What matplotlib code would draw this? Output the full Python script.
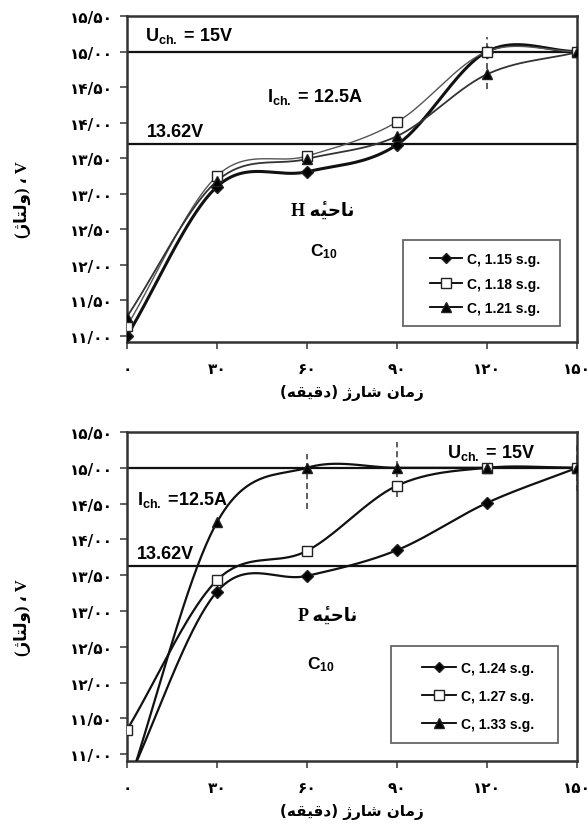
import numpy as np
import unicodedata
import matplotlib
matplotlib.use("Agg")
import matplotlib.pyplot as plt
from matplotlib.patches import Rectangle

plt.rcParams['mathtext.fontset'] = 'custom'
plt.rcParams['mathtext.rm'] = 'Liberation Sans'
plt.rcParams['mathtext.bf'] = 'Liberation Sans:bold'
plt.rcParams['mathtext.it'] = 'Liberation Sans:italic'

# ---------------- data ----------------
time_min = [0, 30, 60, 90, 120, 150]

top_labels = ["C, 1.15 s.g.", "C, 1.18 s.g.", "C, 1.21 s.g."]
top_115 = [11.00, 13.10, 13.31, 13.69, 15.00, 15.00]
top_118 = [11.14, 13.25, 13.53, 14.01, 15.00, 15.00]
top_121 = [11.27, 13.18, 13.49, 13.81, 14.68, 14.99]

bot_labels = ["C, 1.24 s.g.", "C, 1.27 s.g.", "C, 1.33 s.g."]
bot_124 = [10.60, 13.27, 13.49, 13.85, 14.51, 15.00]
bot_127 = [11.34, 13.43, 13.84, 14.75, 15.00, 15.00]
bot_133 = [10.50, 14.24, 15.00, 15.00, 15.00, 15.00]

top_hlines = [15.00, 13.70]
bot_hlines = [15.00, 13.63]
top_dashed = {120: (14.47, 15.20)}
bot_dashed = {60: (14.42, 15.19), 90: (14.59, 15.36), 150: (14.68, 15.36)}

y_ticks = [11.0, 11.5, 12.0, 12.5, 13.0, 13.5, 14.0, 14.5, 15.0, 15.5]
y_ticklabels = ["۱۱/۰۰", "۱۱/۵۰", "۱۲/۰۰", "۱۲/۵۰", "۱۳/۰۰", "۱۳/۵۰",
                "۱۴/۰۰", "۱۴/۵۰", "۱۵/۰۰", "۱۵/۵۰"]
x_ticklabels = ["۰", "۳۰", "۶۰", "۹۰", "۱۲۰", "۱۵۰"]

# ---------------- simple Persian shaping ----------------
FORMS = {  # isolated, final, initial, medial
    'ا': ('\uFE8D', '\uFE8E', None, None),
    'ت': ('\uFE95', '\uFE96', '\uFE97', '\uFE98'),
    'ح': ('\uFEA1', '\uFEA2', '\uFEA3', '\uFEA4'),
    'د': ('\uFEA9', '\uFEAA', None, None),
    'ر': ('\uFEAD', '\uFEAE', None, None),
    'ز': ('\uFEAF', '\uFEB0', None, None),
    'ژ': ('\uFB8A', '\uFB8B', None, None),
    'ش': ('\uFEB5', '\uFEB6', '\uFEB7', '\uFEB8'),
    'ق': ('\uFED5', '\uFED6', '\uFED7', '\uFED8'),
    'ل': ('\uFEDD', '\uFEDE', '\uFEDF', '\uFEE0'),
    'م': ('\uFEE1', '\uFEE2', '\uFEE3', '\uFEE4'),
    'ن': ('\uFEE5', '\uFEE6', '\uFEE7', '\uFEE8'),
    'ه': ('\uFEE9', '\uFEEA', '\uFEEB', '\uFEEC'),
    'و': ('\uFEED', '\uFEEE', None, None),
    'ی': ('\uFBFC', '\uFBFD', '\uFBFE', '\uFBFF'),
}


def shape(s):
    # letters only (skip combining marks when looking at neighbours)
    out = []
    idx = [i for i, c in enumerate(s) if not unicodedata.combining(c)]
    for k, i in enumerate(idx):
        c = s[i]
        if c not in FORMS:
            out.append((i, c))
            continue
        f = FORMS[c]
        prev = s[idx[k - 1]] if k > 0 else None
        nxt = s[idx[k + 1]] if k < len(idx) - 1 else None
        jp = prev in FORMS and FORMS[prev][2] is not None
        jn = nxt in FORMS and f[2] is not None
        if jp and jn:
            g = f[3]
        elif jp:
            g = f[1]
        elif jn:
            g = f[2]
        else:
            g = f[0]
        out.append((i, g))
    res = dict(out)
    return ''.join(res.get(i, s[i]) for i in range(len(s)))


def rtl(s):
    t = shape(s)
    clusters = []
    for c in t:
        if unicodedata.combining(c) and clusters:
            clusters[-1] += c
        else:
            clusters.append(c)
    vis = ''.join(clusters[::-1])
    return vis.translate(str.maketrans('()', ')('))


xlabel_text = rtl("زمان شارژ (دقیقه)")
ylabel_text = rtl("V ، (ولتاژ)")
region_top = rtl("ناحیه\u0654 H")
region_bot = rtl("ناحیه\u0654 P")

PERSIAN = ['DejaVu Sans']
SERIF_MIX = ['Liberation Serif', 'DejaVu Sans']


def smooth(x, y, n=40):
    """Catmull-Rom style smoothing of a polyline through the data points."""
    x = np.asarray(x, float)
    y = np.asarray(y, float)
    m = np.zeros_like(y)
    m[1:-1] = (y[2:] - y[:-2]) / 2.0
    m[0] = y[1] - y[0]
    m[-1] = y[-1] - y[-2]
    xs, ys = [], []
    for i in range(len(x) - 1):
        t = np.linspace(0, 1, n, endpoint=(i == len(x) - 2))
        h00 = 2 * t**3 - 3 * t**2 + 1
        h10 = t**3 - 2 * t**2 + t
        h01 = -2 * t**3 + 3 * t**2
        h11 = t**3 - t**2
        xs.append(x[i] + t * (x[i + 1] - x[i]))
        ys.append(h00 * y[i] + h10 * m[i] + h01 * y[i + 1] + h11 * m[i + 1])
    return np.concatenate(xs), np.concatenate(ys)


fig = plt.figure(figsize=(5.88, 8.28), dpi=100)
ax1 = fig.add_axes([127 / 588, 1 - 343 / 828, 450 / 588, 326 / 828])
ax2 = fig.add_axes([127 / 588, 1 - 762 / 828, 450 / 588, 329 / 828])


def style_axes(ax, ymin):
    ax.set_xlim(0, 150)
    ax.set_ylim(ymin, 15.5)
    ax.set_xticks(time_min)
    ax.set_xticklabels(x_ticklabels, family=PERSIAN, fontweight='bold', fontsize=11)
    ax.set_yticks(y_ticks)
    ax.set_yticklabels(y_ticklabels, family=PERSIAN, fontweight='bold', fontsize=11)
    ax.tick_params(axis='both', direction='out', length=5, width=1.2, color='#444')
    ax.tick_params(axis='y', pad=5)
    ax.tick_params(axis='x', pad=9)
    for sp in ax.spines.values():
        sp.set_linewidth(1.8)
        sp.set_color('#333333')
    ax.text(0.5, -0.153, xlabel_text, transform=ax.transAxes, ha='center', va='center',
            family=PERSIAN, fontweight='bold', fontsize=11)
    ax.text(-0.232, 0.44, ylabel_text, transform=ax.transAxes, ha='center', va='center',
            rotation=90, family=SERIF_MIX, fontweight='bold', fontsize=12)


style_axes(ax1, 10.915)
style_axes(ax2, 10.905)

markers = ['D', 's', '^']
msizes = [6, 7, 7.5]
faces = ['black', 'white', 'black']

UCH = r'$\mathbf{U_{ch.}}$ = 15V'
ICH_TOP = r'$\mathbf{I_{ch.}}$ = 12.5A'
ICH_BOT = r'$\mathbf{I_{ch.}}$ =12.5A'
C10 = r'C$\mathbf{_{10}}$'
ANN = dict(family='Liberation Sans', fontweight='bold', fontsize=13, va='center', ha='left')

# ---- top chart ----
top_series = [top_115, top_118, top_121]
top_lw = [2.2, 1.0, 1.3]
top_col = ['#111111', '#555555', '#333333']
handles = []
for vals, lab, mk, ms, fc, lw, col in zip(top_series, top_labels, markers, msizes, faces, top_lw, top_col):
    sx, sy = smooth(time_min, vals)
    ax1.plot(sx, sy, color=col, lw=lw, zorder=3)
    ax1.plot(time_min, vals, linestyle='none', marker=mk, ms=ms, mfc=fc, mec='#222', mew=1.0, zorder=4)
    h, = ax1.plot([], [], color='black', lw=1.3, marker=mk, ms=ms - 0.5, mfc=fc, mec='#222', mew=1.0)
    handles.append(h)
for yv in top_hlines:
    ax1.axhline(yv, color='#111', lw=1.6, zorder=2)
for xv, (y0, y1) in top_dashed.items():
    ax1.plot([xv, xv], [y0, y1], color='#333', lw=1.1, ls=(0, (4, 2.5)), zorder=2)

ax1.text(6, 15.23, UCH, **ANN)
ax1.text(46.7, 14.37, ICH_TOP, **ANN)
ax1.text(6.7, 13.88, '13.62V', **ANN)
ax1.text(65.3, 12.76, region_top, family=SERIF_MIX, fontweight='bold', fontsize=13,
         va='center', ha='center')
ax1.text(61, 12.2, C10, family='Liberation Sans', fontweight='bold', fontsize=12.5,
         va='center', ha='left')
ax1.add_patch(Rectangle((0.613, 0.049), 0.349, 0.264, transform=ax1.transAxes, fill=False,
                        edgecolor='#666666', lw=1.3, zorder=5))
ax1.legend(handles, top_labels, loc='center', bbox_to_anchor=(0.796, 0.179),
           frameon=False, prop={'family': 'Liberation Sans', 'weight': 'bold', 'size': 10},
           handlelength=2.3, handletextpad=0.35, labelspacing=0.75)

# ---- bottom chart ----
bot_series = [bot_124, bot_127, bot_133]
handles = []
for vals, lab, mk, ms, fc in zip(bot_series, bot_labels, markers, msizes, faces):
    sx, sy = smooth(time_min, vals)
    ax2.plot(sx, sy, color='#111111', lw=1.6, zorder=3)
    ax2.plot(time_min, vals, linestyle='none', marker=mk, ms=ms, mfc=fc, mec='#222', mew=1.0, zorder=4)
    h, = ax2.plot([], [], color='black', lw=1.3, marker=mk, ms=ms - 0.5, mfc=fc, mec='#222', mew=1.0)
    handles.append(h)
for yv in bot_hlines:
    ax2.axhline(yv, color='#111', lw=1.6, zorder=2)
for xv, (y0, y1) in bot_dashed.items():
    ax2.plot([xv, xv], [y0, y1], color='#333', lw=1.1, ls=(0, (4, 2.5)), zorder=2, clip_on=False)

ax2.text(106.7, 15.22, UCH, **ANN)
ax2.text(3.3, 14.56, ICH_BOT, **ANN)
ax2.text(3.3, 13.80, '13.62V', **ANN)
ax2.text(67, 12.93, region_bot, family=SERIF_MIX, fontweight='bold', fontsize=13,
         va='center', ha='center')
ax2.text(60, 12.26, C10, family='Liberation Sans', fontweight='bold', fontsize=12.5,
         va='center', ha='left')
ax2.add_patch(Rectangle((0.587, 0.055), 0.371, 0.295, transform=ax2.transAxes, fill=False,
                        edgecolor='#666666', lw=1.3, zorder=5))
ax2.legend(handles, bot_labels, loc='center', bbox_to_anchor=(0.780, 0.198),
           frameon=False, prop={'family': 'Liberation Sans', 'weight': 'bold', 'size': 10},
           handlelength=2.5, handletextpad=0.35, labelspacing=1.0)

fig.savefig('out.png', dpi=100)
